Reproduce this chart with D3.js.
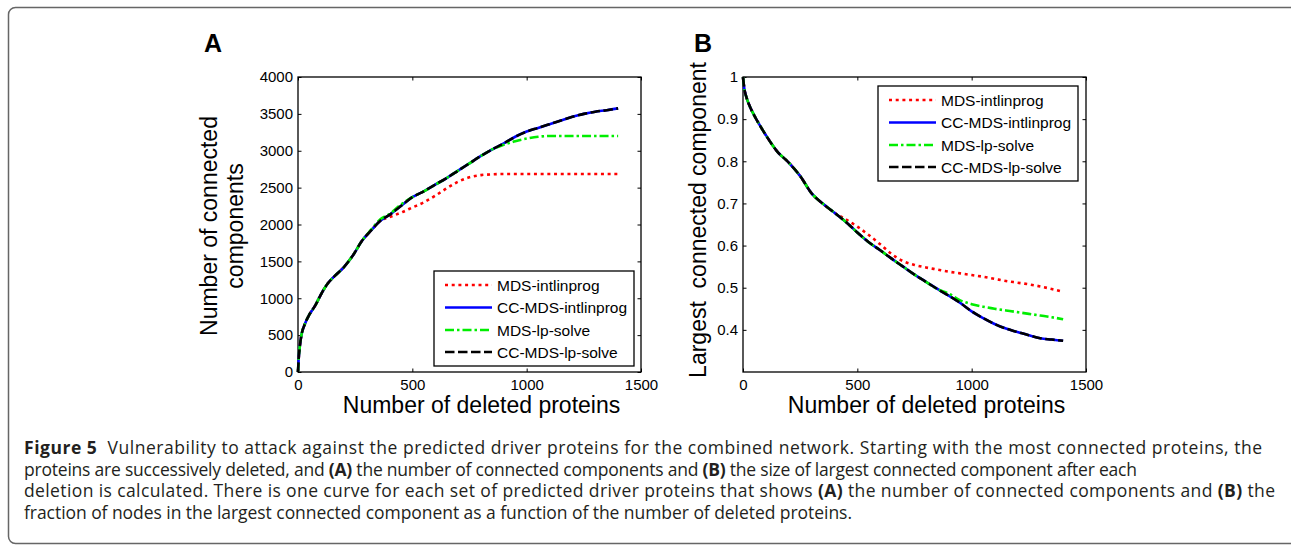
<!DOCTYPE html>
<html>
<head>
<meta charset="utf-8">
<script src="https://cdn.jsdelivr.net/npm/d3@7"></script>
<style>
  body { margin: 0; background: #fff; }
  svg { display: block; }
  .tick text { font-family: "Liberation Sans", Arial, sans-serif; font-size: 15px; fill: #000; }
  .axlab { font-family: "Liberation Sans", Arial, sans-serif; font-size: 23px; fill: #000; }
  .leg { font-family: "Liberation Sans", Arial, sans-serif; font-size: 15.5px; fill: #000; }
  .cap { font-family: "Open Sans", sans-serif; font-size: 17.5px; fill: #231f20; }
</style>
</head>
<body>
<script>
// series names (legend order)
const names = ["MDS-intlinprog", "CC-MDS-intlinprog", "MDS-lp-solve", "CC-MDS-lp-solve"]

// panel A: number of connected components vs deleted proteins
const xA = [0, 3, 8, 15, 30, 50, 75, 100, 130, 160, 200, 240, 280, 320, 360, 400, 450, 500, 550, 600,
  650, 700, 750, 800, 850, 900, 950, 1000, 1050, 1100, 1150, 1200, 1250, 1300, 1350, 1400]
const mdsIntA = [0, 180, 350, 500, 650, 780, 900, 1050, 1200, 1300, 1420, 1580, 1780, 1920, 2050, 2100, 2160, 2230, 2300, 2390,
  2490, 2580, 2640, 2670, 2680, 2685, 2685, 2685, 2685, 2685, 2685, 2685, 2685, 2685, 2685, 2685]
const ccMdsIntA = [0, 180, 350, 500, 650, 780, 900, 1050, 1200, 1300, 1420, 1580, 1780, 1920, 2050, 2130, 2250, 2370, 2450, 2540,
  2630, 2730, 2830, 2930, 3020, 3100, 3190, 3260, 3310, 3360, 3410, 3460, 3500, 3530, 3550, 3575]
const mdsLpA = [0, 180, 350, 500, 650, 780, 900, 1050, 1200, 1300, 1420, 1580, 1780, 1930, 2070, 2140, 2270, 2370, 2450, 2540,
  2630, 2730, 2830, 2930, 3020, 3080, 3130, 3165, 3190, 3200, 3200, 3200, 3200, 3200, 3200, 3200]
const ccMdsLpA = [0, 180, 350, 500, 650, 780, 900, 1050, 1200, 1300, 1420, 1580, 1780, 1920, 2050, 2130, 2250, 2370, 2450, 2540,
  2630, 2730, 2830, 2930, 3020, 3100, 3190, 3260, 3310, 3360, 3410, 3460, 3500, 3530, 3550, 3575]

// panel B: fraction of nodes in largest connected component
const xB = [0, 5, 15, 30, 50, 75, 100, 150, 200, 250, 300, 350, 400, 450, 500, 550, 600, 650, 700, 750,
  800, 850, 900, 950, 1000, 1050, 1100, 1150, 1200, 1250, 1300, 1350, 1400]
const mdsIntB = [1, 0.975, 0.952, 0.93, 0.908, 0.884, 0.862, 0.823, 0.797, 0.765, 0.724, 0.699, 0.678, 0.662, 0.645, 0.625, 0.603, 0.58, 0.563, 0.554,
  0.548, 0.543, 0.538, 0.534, 0.53, 0.526, 0.521, 0.516, 0.512, 0.508, 0.503, 0.497, 0.49]
const ccMdsIntB = [1, 0.975, 0.952, 0.93, 0.908, 0.884, 0.862, 0.823, 0.797, 0.765, 0.724, 0.699, 0.678, 0.656, 0.631, 0.608, 0.589, 0.569, 0.55, 0.531,
  0.514, 0.497, 0.481, 0.464, 0.444, 0.428, 0.414, 0.403, 0.395, 0.387, 0.38, 0.377, 0.374]
const mdsLpB = [1, 0.975, 0.952, 0.93, 0.908, 0.884, 0.862, 0.823, 0.797, 0.765, 0.724, 0.699, 0.678, 0.656, 0.631, 0.608, 0.589, 0.569, 0.55, 0.531,
  0.514, 0.497, 0.486, 0.47, 0.461, 0.455, 0.45, 0.446, 0.442, 0.438, 0.434, 0.43, 0.425]
const ccMdsLpB = ccMdsIntB.slice()

const xTicks = [0, 500, 1000, 1500]
const yTicksA = [0, 500, 1000, 1500, 2000, 2500, 3000, 3500, 4000]
const yTicksB = [0.4, 0.5, 0.6, 0.7, 0.8, 0.9, 1]

const styles = [
  { color: "#ff0000", dash: "3,3.7" },
  { color: "#0000ff", dash: null },
  { color: "#00ee00", dash: "9,3,2.5,3" },
  { color: "#000000", dash: "9.5,3.5" }
]

const W = 1291, H = 548
const svg = d3.select("body").append("svg").attr("width", W).attr("height", H)

// figure frame (runs off the right side)
svg.append("rect")
  .attr("x", 8.5).attr("y", 7.5).attr("width", 1300).attr("height", 536)
  .attr("rx", 7).attr("fill", "none").attr("stroke", "#666").attr("stroke-width", 1.5)

function panel(opt) {
  const x = d3.scaleLinear().domain([0, 1500]).range([opt.left, opt.right])
  const y = d3.scaleLinear().domain(opt.yDomain).range([opt.bottom, opt.top])
  const g = svg.append("g")

  g.append("g").attr("transform", `translate(0,${opt.bottom})`)
    .call(d3.axisBottom(x).tickValues(xTicks).tickSizeInner(-3.5).tickSizeOuter(0).tickPadding(7).tickFormat(d3.format("d")))
  g.append("g").attr("transform", `translate(0,${opt.top})`)
    .call(d3.axisTop(x).tickValues(xTicks).tickSizeInner(-3.5).tickSizeOuter(0).tickFormat(""))
  g.append("g").attr("transform", `translate(${opt.left},0)`)
    .call(d3.axisLeft(y).tickValues(opt.yTicks).tickSizeInner(-3.5).tickSizeOuter(0).tickPadding(5).tickFormat(opt.fmt))
  g.append("g").attr("transform", `translate(${opt.right},0)`)
    .call(d3.axisRight(y).tickValues(opt.yTicks).tickSizeInner(-3.5).tickSizeOuter(0).tickFormat(""))
  g.selectAll(".domain").remove()
  g.selectAll(".tick line").attr("stroke", "#000")

  g.append("rect")
    .attr("x", opt.left).attr("y", opt.top)
    .attr("width", opt.right - opt.left).attr("height", opt.bottom - opt.top)
    .attr("fill", "none").attr("stroke", "#000").attr("stroke-width", 1.3)

  const line = d3.line().x((d, i) => x(opt.xs[i])).y(d => y(d)).curve(d3.curveMonotoneX)
  opt.series.forEach((s, k) => {
    g.append("path").datum(s)
      .attr("d", line)
      .attr("fill", "none")
      .attr("stroke", styles[k].color)
      .attr("stroke-width", 2.6)
      .attr("stroke-dasharray", styles[k].dash)
  })

  // legend
  const lg = g.append("g").attr("transform", `translate(${opt.legX},${opt.legY})`)
  lg.append("rect").attr("width", 200).attr("height", 95)
    .attr("fill", "#fff").attr("stroke", "#000").attr("stroke-width", 1.3)
  const rows = [14, 36.5, 59, 81]
  names.forEach((n, k) => {
    lg.append("line").attr("x1", 11).attr("x2", 58).attr("y1", rows[k]).attr("y2", rows[k])
      .attr("stroke", styles[k].color).attr("stroke-width", 2.6)
      .attr("stroke-dasharray", styles[k].dash)
    lg.append("text").attr("class", "leg").attr("x", 63).attr("y", rows[k]).attr("dy", "0.36em").text(n)
  })

  // panel letter
  g.append("text").attr("x", opt.letterX).attr("y", 52)
    .attr("font-family", "Liberation Sans, Arial, sans-serif").attr("font-weight", "bold")
    .attr("font-size", 25).attr("text-anchor", "middle").text(opt.letter)

  g.append("text").attr("class", "axlab")
    .attr("x", (opt.left + opt.right) / 2 + 12).attr("y", 413)
    .attr("text-anchor", "middle").text("Number of deleted proteins")

  opt.ylab.forEach((t, i) => {
    g.append("text").attr("class", "axlab")
      .attr("transform", `translate(${opt.ylabX[i]},${opt.ylabY}) rotate(-90)`)
      .attr("text-anchor", "middle").text(t)
  })
}

panel({
  left: 298, right: 641, top: 77, bottom: 372,
  yDomain: [0, 4000], yTicks: yTicksA, fmt: d3.format("d"),
  xs: xA, series: [mdsIntA, ccMdsIntA, mdsLpA, ccMdsLpA],
  legX: 434, legY: 271,
  letter: "A", letterX: 213,
  ylab: ["Number of connected", "components"], ylabX: [217, 243], ylabY: 226
})

panel({
  left: 743, right: 1086, top: 77, bottom: 372,
  yDomain: [0.3, 1], yTicks: yTicksB, fmt: d => d === 1 ? "1" : d.toFixed(1),
  xs: xB, series: [mdsIntB, ccMdsIntB, mdsLpB, ccMdsLpB],
  legX: 878, legY: 86,
  letter: "B", letterX: 703,
  ylab: ["Largest\u00a0\u00a0connected component"], ylabX: [706], ylabY: 220
})

// caption
const capLines = [
  [["b", "Figure 5"], ["n", "\u00a0\u00a0Vulnerability to attack against the predicted driver proteins for the combined network. Starting with the most connected proteins, the"]],
  [["n", "proteins are successively deleted, and "], ["b", "(A)"], ["n", " the number of connected components and "], ["b", "(B)"], ["n", " the size of largest connected component after each"]],
  [["n", "deletion is calculated. There is one curve for each set of predicted driver proteins that shows "], ["b", "(A)"], ["n", " the number of connected components and "], ["b", "(B)"], ["n", " the"]],
  [["n", "fraction of nodes in the largest connected component as a function of the number of deleted proteins."]]
]
const capY = [454, 475.5, 497, 518.5]
const capW = [1238, 1113, 1251, 828]
capLines.forEach((parts, i) => {
  const t = svg.append("text").attr("class", "cap").attr("x", 24).attr("y", capY[i])
    .attr("textLength", capW[i]).attr("lengthAdjust", "spacing")
  parts.forEach(p => {
    t.append("tspan").attr("font-weight", p[0] === "b" ? "bold" : null).text(p[1])
  })
})
</script>
</body>
</html>
